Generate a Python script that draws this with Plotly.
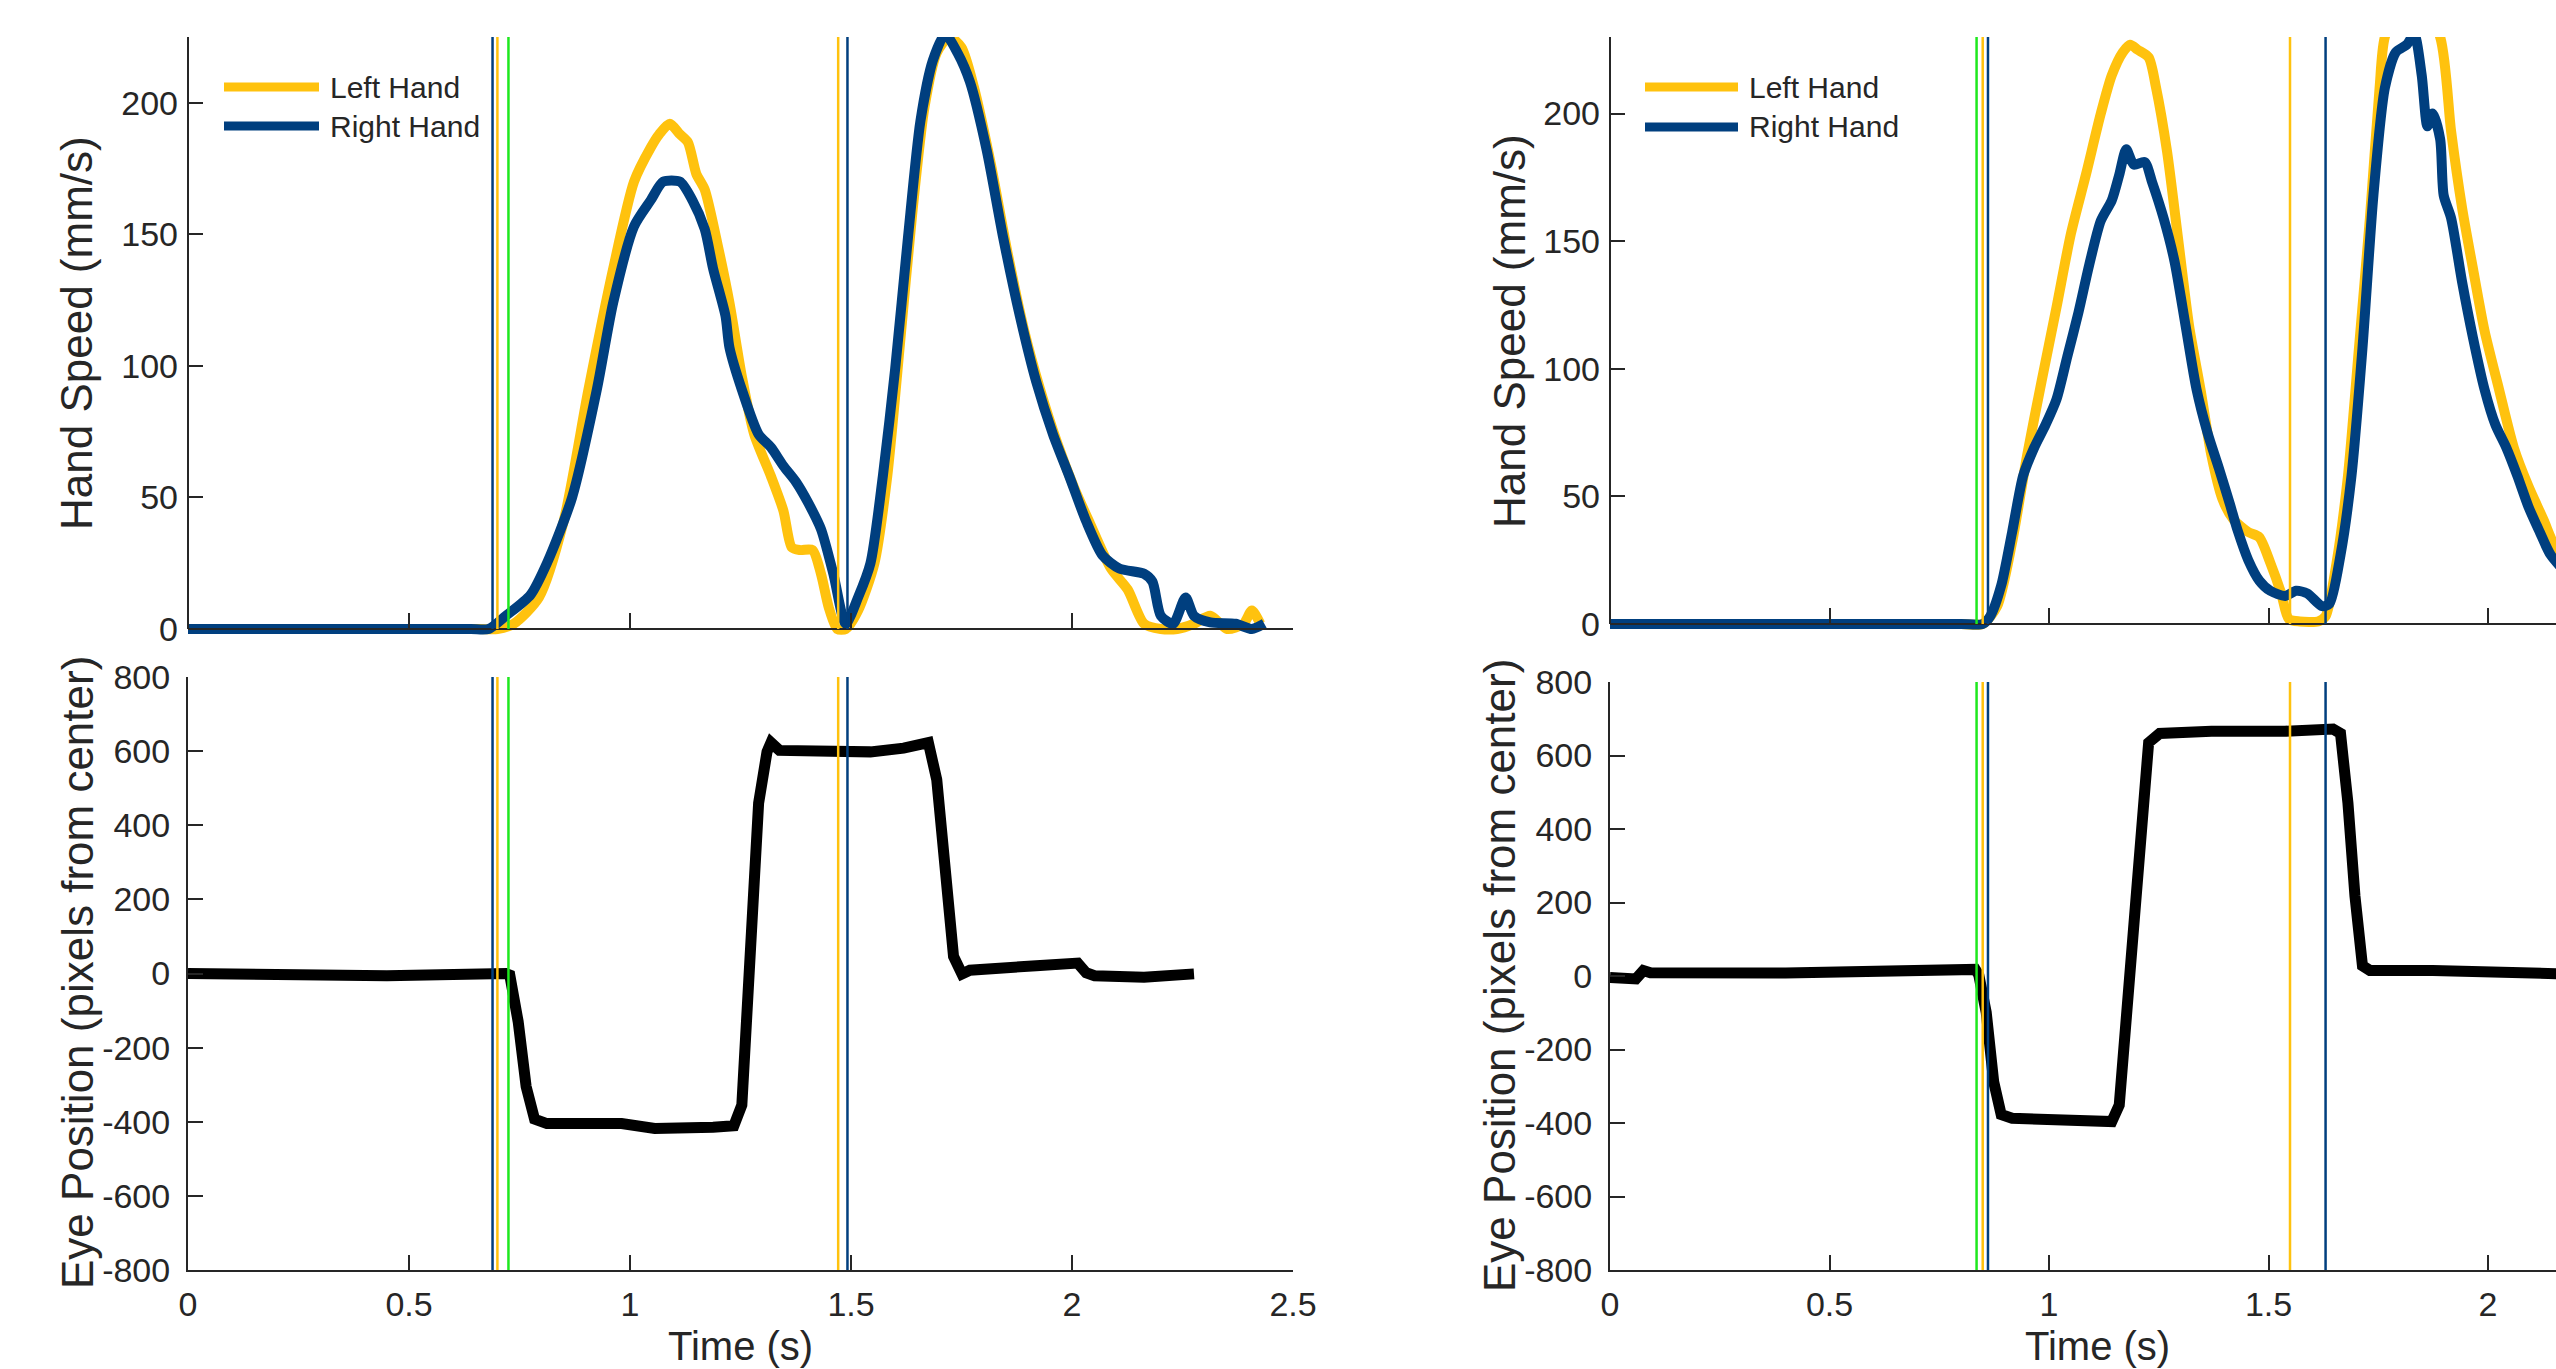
import plotly.graph_objects as go

W, H = 2556, 1369
YELLOW = '#FFC20E'
BLUE = '#003F7F'
GREEN = '#1EE81E'
AX = '#262626'
TICKFONT = 'Liberation Sans, Arial, sans-serif'
TITLEFONT = 'Liberation Sans, Arial, sans-serif'

# ---------------- Data: left panel (trial A) ----------------
tA_lh = [0, 0.40, 0.66, 0.70, 0.737, 0.794, 0.850, 0.906, 0.962, 1.009, 1.047, 1.066, 1.090, 1.113, 1.131,
         1.150, 1.169, 1.197, 1.225, 1.253, 1.281, 1.319, 1.347, 1.366, 1.385, 1.413, 1.432,
         1.450, 1.469, 1.488, 1.516, 1.553, 1.582, 1.610, 1.638, 1.666, 1.694, 1.722, 1.750,
         1.778, 1.816, 1.853, 1.891, 1.928, 1.966, 2.004, 2.041, 2.088, 2.126, 2.163, 2.201,
         2.238, 2.276, 2.313, 2.351, 2.388, 2.407, 2.426]
vA_lh = [0, 0, 0, 0, 2, 12, 41, 91, 137, 170, 183, 188, 192, 188, 185,
         173, 167, 147, 124, 96, 74, 58, 45, 31, 30, 30, 21,
         8, 0, 0, 7, 25, 58, 107, 157, 198, 219, 225, 221,
         206, 177, 144, 114, 91, 71, 54, 40, 23, 15, 2, 0,
         0, 2, 5, 0, 2, 7, 2]

tA_rh = [0, 0.40, 0.64, 0.68, 0.719, 0.775, 0.812, 0.869, 0.925, 0.962, 1.009, 1.047, 1.075, 1.113, 1.141,
         1.169, 1.188, 1.216, 1.225, 1.253, 1.291, 1.319, 1.347, 1.375, 1.403, 1.432, 1.460,
         1.488, 1.516, 1.544, 1.572, 1.600, 1.629, 1.657, 1.685, 1.713, 1.741, 1.769, 1.807,
         1.844, 1.882, 1.919, 1.957, 1.994, 2.032, 2.069, 2.107, 2.163, 2.182, 2.201, 2.229,
         2.257, 2.276, 2.313, 2.370, 2.407, 2.435]
vA_rh = [0, 0, 0, 0, 5, 13, 25, 50, 91, 124, 153, 163, 170, 170, 163,
         152, 137, 119, 107, 91, 74, 69, 62, 56, 48, 38, 21,
         2, 12, 25, 58, 99, 149, 193, 216, 226, 219, 208, 182,
         149, 119, 94, 74, 58, 41, 28, 23, 21, 18, 5, 2,
         12, 5, 2.5, 2, 0, 2]

tA_eye = [0, 0.30, 0.45, 0.719, 0.728, 0.747, 0.765, 0.784, 0.812, 0.981, 1.056, 1.188, 1.235,
          1.253, 1.272, 1.291, 1.310, 1.319, 1.338, 1.450, 1.544, 1.619, 1.675, 1.694, 1.713,
          1.732, 1.751, 1.769, 1.919, 2.013, 2.032, 2.051, 2.163, 2.276]
vA_eye = [0, -2, -6, 0, -4, -130, -305, -393, -405, -405, -418, -415, -411,
          -355, 21, 460, 598, 623, 602, 602, 598, 608, 623, 523, 272,
          46, -1, 9, 21, 28, 2, -6, -10, -1]

evA_lh = [0.700, 1.471]
evA_rh = [0.689, 1.492]
evA_eye = [0.725]

# ---------------- Data: right panel (trial B) ----------------
tB_lh = [0, 0.45, 0.80, 0.849, 0.882, 0.916, 0.950, 0.983, 1.017, 1.050, 1.084, 1.118, 1.143, 1.168, 1.185,
         1.202, 1.227, 1.244, 1.269, 1.294, 1.319, 1.345, 1.370, 1.395, 1.420, 1.454, 1.479,
         1.504, 1.529, 1.546, 1.571, 1.613, 1.630, 1.655, 1.681, 1.706, 1.731, 1.753, 1.765,
         1.824, 1.891, 1.916, 1.941, 1.966, 1.992, 2.025, 2.059, 2.092, 2.126, 2.156, 2.20]
vB_lh = [0, 0, 0, 0, 7, 32, 66, 95, 124, 153, 176, 200, 215, 224, 227,
         225, 222, 210, 185, 151, 117, 92, 66, 49, 41, 36, 34,
         24, 12, 2, 1, 1, 3, 24, 58, 108, 159, 210, 230,
         252, 230, 193, 163, 139, 115, 92, 69, 54, 41, 29, 20]

tB_rh = [0, 0.45, 0.80, 0.849, 0.866, 0.891, 0.916, 0.941, 0.966, 0.992, 1.017, 1.042, 1.067, 1.092, 1.118,
         1.143, 1.160, 1.176, 1.193, 1.218, 1.235, 1.261, 1.286, 1.311, 1.336, 1.361, 1.387,
         1.412, 1.429, 1.454, 1.479, 1.504, 1.538, 1.563, 1.588, 1.622, 1.639, 1.664, 1.689,
         1.714, 1.739, 1.765, 1.790, 1.815, 1.832, 1.849, 1.862, 1.874, 1.891, 1.899, 1.916,
         1.941, 1.966, 1.992, 2.017, 2.042, 2.067, 2.092, 2.118, 2.143, 2.20]
vB_rh = [0, 0, 0, 0, 3, 15, 36, 58, 69, 78, 88, 105, 122, 141, 158,
         166, 176, 186, 180, 181, 173, 159, 142, 117, 92, 75, 61,
         47, 37, 25, 17, 13, 11, 13, 12, 7, 8, 27, 58,
         108, 168, 210, 224, 227, 231, 215, 195, 200, 190, 168, 159,
         134, 112, 92, 78, 69, 58, 46, 36, 27, 16]

tB_eye = [0, 0.059, 0.076, 0.092, 0.40, 0.697, 0.832, 0.840, 0.857, 0.874, 0.891, 0.916, 1.034,
          1.143, 1.160, 1.185, 1.210, 1.227, 1.252, 1.370, 1.538, 1.647, 1.664, 1.681, 1.697,
          1.714, 1.731, 1.874, 2.20]
vB_eye = [-4, -8, 15, 9, 8, 13, 18, 3, -99, -288, -377, -387, -392,
          -396, -351, 28, 407, 635, 660, 666, 666, 672, 660, 470, 217,
          28, 15, 15, 5]

evB_lh = [0.849, 1.549]
evB_rh = [0.861, 1.630]
evB_eye = [0.835]

time_ticks = [0, 0.5, 1, 1.5, 2, 2.5]
time_ticktext = ['0', '0.5', '1', '1.5', '2', '2.5']
speed_ticks = [0, 50, 100, 150, 200]
speed_ticktext = ['0', '50', '100', '150', '200']
eye_ticks = [-800, -600, -400, -200, 0, 200, 400, 600, 800]
eye_ticktext = ['-800', '-600', '-400', '-200', '0', '200', '400', '600', '800']
legend_labels = ['Left Hand', 'Right Hand']

# ---------------- Layout geometry (pixels) ----------------
def px(x):
    return x / W

def py(y):
    return 1 - y / H

L_X = (188, 1293)
R_X = (1610, W)
R_XMAX = (W - 1610) / 439.0  # visible part of the right panel's time axis
TL_Y = (37, 629)
TR_Y = (37, 624)
BL_Y = (677, 1270)
BR_Y = (682, 1270)
EXT = 7  # pixels below zero kept so thick lines at zero are not clipped

fig = go.Figure()

def line_trace(t, v, color, width, xa, ya, shape='spline'):
    fig.add_trace(go.Scatter(x=t, y=v, mode='lines', xaxis=xa, yaxis=ya,
                             line=dict(color=color, width=width, shape=shape,
                                       smoothing=0.7 if shape == 'spline' else None),
                             showlegend=False, hoverinfo='skip'))

line_trace(tA_lh, vA_lh, YELLOW, 10, 'x', 'y')
line_trace(tA_rh, vA_rh, BLUE, 10, 'x', 'y')
line_trace(tA_eye, vA_eye, 'black', 11, 'x2', 'y2', 'linear')
line_trace(tB_lh, vB_lh, YELLOW, 10, 'x3', 'y3')
line_trace(tB_rh, vB_rh, BLUE, 10, 'x3', 'y3')
line_trace(tB_eye, vB_eye, 'black', 11, 'x4', 'y4', 'linear')

common = dict(showgrid=False, zeroline=False, ticks='inside', ticklen=15, tickwidth=2,
              tickcolor=AX, linecolor=AX, linewidth=2, automargin=False,
              tickfont=dict(family=TICKFONT, size=34, color=AX))

top_l_max, top_r_max = 225, 230
ext_l = EXT * top_l_max / (TL_Y[1] - TL_Y[0])
ext_r = EXT * top_r_max / (TR_Y[1] - TR_Y[0])

fig.update_layout(
    width=W, height=H, autosize=False,
    margin=dict(l=0, r=0, t=0, b=0, pad=0, autoexpand=False),
    paper_bgcolor='white', plot_bgcolor='white',
    showlegend=False,
    xaxis=dict(common, domain=[px(L_X[0]), px(L_X[1])], range=[0, 2.5], anchor='free',
               position=py(TL_Y[1]), tickvals=time_ticks, showticklabels=False, showline=True),
    yaxis=dict(common, domain=[py(TL_Y[1] + EXT), py(TL_Y[0])], range=[-ext_l, top_l_max],
               anchor='x', tickvals=speed_ticks, ticktext=speed_ticktext, showline=False,
               ticklabelstandoff=9),
    xaxis2=dict(common, domain=[px(L_X[0]), px(L_X[1])], range=[0, 2.5], anchor='y2',
                tickvals=time_ticks, ticktext=time_ticktext, showline=True, ticklabelstandoff=3),
    yaxis2=dict(common, domain=[py(BL_Y[1]), py(BL_Y[0])], range=[-800, 800], anchor='x2',
                tickvals=eye_ticks, ticktext=eye_ticktext, showline=True, ticklabelstandoff=9),
    xaxis3=dict(common, domain=[px(R_X[0]), 1], range=[0, R_XMAX], anchor='free',
                position=py(TR_Y[1]), tickvals=time_ticks, showticklabels=False, showline=True),
    yaxis3=dict(common, domain=[py(TR_Y[1] + EXT), py(TR_Y[0])], range=[-ext_r, top_r_max],
                anchor='x3', tickvals=speed_ticks, ticktext=speed_ticktext, showline=False,
                ticklabelstandoff=9),
    xaxis4=dict(common, domain=[px(R_X[0]), 1], range=[0, R_XMAX], anchor='y4',
                tickvals=time_ticks, ticktext=time_ticktext, showline=True, ticklabelstandoff=3),
    yaxis4=dict(common, domain=[py(BR_Y[1]), py(BR_Y[0])], range=[-800, 800], anchor='x4',
                tickvals=eye_ticks, ticktext=eye_ticktext, showline=True, ticklabelstandoff=9),
)

shapes = []
# y-axis lines for the speed plots (stop at the zero line)
for xp, (y0, y1) in [(L_X[0], TL_Y), (R_X[0], TR_Y)]:
    shapes.append(dict(type='line', xref='paper', yref='paper', x0=px(xp), x1=px(xp),
                       y0=py(y1), y1=py(y0), line=dict(color=AX, width=2), layer='above'))

# event markers
def vlines(times, color, xa, ya, y0, y1):
    for t in times:
        shapes.append(dict(type='line', xref=xa, yref=ya, x0=t, x1=t, y0=y0, y1=y1,
                           line=dict(color=color, width=2.5), layer='above'))

vlines(evA_rh, BLUE, 'x', 'y', 0, top_l_max)
vlines(evA_lh, YELLOW, 'x', 'y', 0, top_l_max)
vlines(evA_eye, GREEN, 'x', 'y', 0, top_l_max)
vlines(evA_rh, BLUE, 'x2', 'y2', -800, 800)
vlines(evA_lh, YELLOW, 'x2', 'y2', -800, 800)
vlines(evA_eye, GREEN, 'x2', 'y2', -800, 800)
vlines(evB_eye, GREEN, 'x3', 'y3', 0, top_r_max)
vlines(evB_lh, YELLOW, 'x3', 'y3', 0, top_r_max)
vlines(evB_rh, BLUE, 'x3', 'y3', 0, top_r_max)
vlines(evB_eye, GREEN, 'x4', 'y4', -800, 800)
vlines(evB_lh, YELLOW, 'x4', 'y4', -800, 800)
vlines(evB_rh, BLUE, 'x4', 'y4', -800, 800)

annotations = []
# legends (drawn manually to match the long MATLAB sample lines)
for (lx0, lx1, tx, rows) in [(224, 319, 328, (87, 126)), (1645, 1738, 1747, (87, 127))]:
    for label, color, ry in zip(legend_labels, [YELLOW, BLUE], rows):
        shapes.append(dict(type='line', xref='paper', yref='paper', x0=px(lx0), x1=px(lx1),
                           y0=py(ry), y1=py(ry), line=dict(color=color, width=9)))
        annotations.append(dict(text=label, xref='paper', yref='paper', x=px(tx), y=py(ry),
                                xanchor='left', yanchor='middle', showarrow=False,
                                font=dict(family=TICKFONT, size=30, color=AX)))

# axis titles
def title(text, xp, yp, angle, size, family):
    annotations.append(dict(text=text, xref='paper', yref='paper', x=px(xp), y=py(yp),
                            xanchor='center', yanchor='middle', showarrow=False,
                            textangle=angle, font=dict(family=family, size=size, color=AX)))

title('Hand Speed (mm/s)', 77, 333, -90, 44, TITLEFONT)
title('Eye Position (pixels from center)', 77, 973, -90, 44, TITLEFONT)
title('Hand Speed (mm/s)', 1509, 331, -90, 44, TITLEFONT)
title('Eye Position (pixels from center)', 1499, 976, -90, 44, TITLEFONT)
title('Time (s)', 740, 1346, 0, 40, TICKFONT)
title('Time (s)', 2097, 1346, 0, 40, TICKFONT)

fig.update_layout(shapes=shapes, annotations=annotations)
fig.write_html('out.html', config={'responsive': False, 'displayModeBar': False})

with open('out.html', encoding='utf-8') as f:
    html = f.read()
html = html.replace('<head>', '<head><style>html,body{margin:0;padding:0;overflow:hidden;}</style>', 1)
with open('out.html', 'w', encoding='utf-8') as f:
    f.write(html)
